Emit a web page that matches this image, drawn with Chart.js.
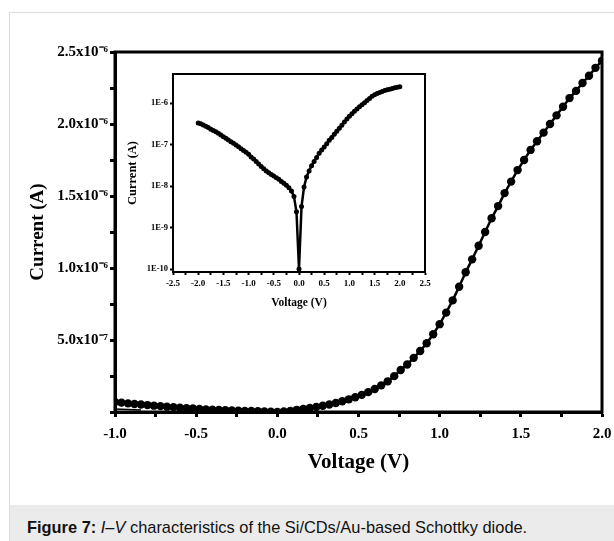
<!DOCTYPE html>
<html><head><meta charset="utf-8">
<script src="https://cdn.jsdelivr.net/npm/chart.js@4.4.1/dist/chart.umd.min.js"></script>
<style>
html,body{margin:0;padding:0;background:#fff;width:614px;height:541px;overflow:hidden;position:relative}
#card{position:absolute;left:9px;top:12px;width:700px;height:600px;border-left:1px solid #dcdcdc;border-top:1px solid #dcdcdc;box-sizing:border-box}
#cap{position:absolute;left:10px;top:505px;width:700px;height:60px;background:#ebebeb}
#capText{position:absolute;left:27px;top:518px;font:16.4px "Liberation Sans",Arial,sans-serif;line-height:19px;color:#111;white-space:nowrap}
#main{position:absolute;left:0;top:0}
#inset{position:absolute;left:100px;top:60px}
</style></head><body>
<div id="card"></div><div id="cap"></div>
<div id="capText"><b>Figure 7:</b> <i>I</i>–<i>V</i> characteristics of the Si/CDs/Au-based Schottky diode.</div>
<canvas id="main" width="614" height="500"></canvas>
<canvas id="inset" width="340" height="260"></canvas>
<script>
// ---- main I–V curve (linear) ----
const mainVoltage = [-1.00,-0.96,-0.92,-0.88,-0.84,-0.80,-0.76,-0.72,-0.68,-0.64,-0.60,-0.56,-0.52,-0.48,-0.44,-0.40,-0.36,-0.32,-0.28,-0.24,-0.20,-0.16,-0.12,-0.08,-0.04,
  0.00,0.04,0.08,0.12,0.16,0.20,0.24,0.28,0.32,0.36,0.40,0.44,0.48,0.52,0.56,0.60,0.64,0.68,0.72,0.76,0.80,0.84,0.88,0.92,0.96,
  1.00,1.04,1.08,1.12,1.16,1.20,1.24,1.28,1.32,1.36,1.40,1.44,1.48,1.52,1.56,1.60,1.64,1.68,1.72,1.76,1.80,1.84,1.88,1.92,1.96,2.00];
const mainCurrent = [6.9e-8,6.5e-8,6.0e-8,5.6e-8,5.2e-8,4.8e-8,4.4e-8,4.1e-8,3.7e-8,3.4e-8,3.0e-8,2.7e-8,2.4e-8,2.1e-8,1.8e-8,1.6e-8,1.4e-8,1.3e-8,1.1e-8,9.5e-9,8.0e-9,6.8e-9,5.6e-9,4.2e-9,2.5e-9,
  1.0e-10,3.0e-9,8.0e-9,1.5e-8,2.1e-8,2.8e-8,3.5e-8,4.3e-8,5.2e-8,6.3e-8,7.5e-8,8.8e-8,1.02e-7,1.19e-7,1.38e-7,1.60e-7,1.85e-7,2.13e-7,2.49e-7,2.92e-7,3.30e-7,3.76e-7,4.24e-7,4.77e-7,5.40e-7,
  6.10e-7,6.90e-7,7.75e-7,8.70e-7,9.70e-7,1.06e-6,1.155e-6,1.25e-6,1.345e-6,1.43e-6,1.52e-6,1.60e-6,1.68e-6,1.75e-6,1.82e-6,1.88e-6,1.94e-6,2.00e-6,2.06e-6,2.12e-6,2.18e-6,2.23e-6,2.285e-6,2.335e-6,2.39e-6,2.44e-6];
const tailVoltage = [-1.00,-0.84];
const tailCurrent = [2.0e-8,1.4e-8];
const mainXTicks = [-1,-0.75,-0.5,-0.25,0,0.25,0.5,0.75,1,1.25,1.5,1.75,2];
const mainXTickLabels = ['-1.0','','-0.5','','0.0','','0.5','','1.0','','1.5','','2.0'];
const mainYTicks = [0,2.5e-7,5e-7,7.5e-7,1e-6,1.25e-6,1.5e-6,1.75e-6,2e-6,2.25e-6,2.5e-6];
const mainYTickLabels = ['','','5.0x10\u207B\u2077','','1.0x10\u207B\u2076','','1.5x10\u207B\u2076','','2.0x10\u207B\u2076','','2.5x10\u207B\u2076'];

// ---- inset (log) ----
const insetVoltage = [-2.00,-1.95,-1.90,-1.85,-1.80,-1.75,-1.70,-1.65,-1.60,-1.55,-1.50,-1.45,-1.40,-1.35,-1.30,-1.25,-1.20,-1.15,-1.10,-1.05,
  -1.00,-0.95,-0.90,-0.85,-0.80,-0.75,-0.70,-0.65,-0.60,-0.55,-0.50,-0.45,-0.40,-0.35,-0.30,-0.25,-0.20,-0.15,-0.10,-0.05,
  0.00,0.05,0.10,0.15,0.20,0.25,0.30,0.35,0.40,0.45,0.50,0.55,0.60,0.65,0.70,0.75,0.80,0.85,0.90,0.95,
  1.00,1.05,1.10,1.15,1.20,1.25,1.30,1.35,1.40,1.45,1.50,1.55,1.60,1.65,1.70,1.75,1.80,1.85,1.90,1.95,2.00];
const insetCurrent = [3.3e-7,3.16e-7,2.95e-7,2.75e-7,2.57e-7,2.34e-7,2.19e-7,2.04e-7,1.86e-7,1.70e-7,1.55e-7,1.41e-7,1.29e-7,1.17e-7,1.07e-7,9.8e-8,8.9e-8,7.9e-8,7.2e-8,6.5e-8,
  5.8e-8,5.0e-8,4.5e-8,3.9e-8,3.4e-8,2.95e-8,2.6e-8,2.3e-8,2.1e-8,1.9e-8,1.74e-8,1.58e-8,1.45e-8,1.29e-8,1.17e-8,1.05e-8,9.1e-9,7.6e-9,5.6e-9,2.4e-9,
  1.0e-10,3.2e-9,9.5e-9,1.66e-8,2.3e-8,3.1e-8,3.9e-8,4.9e-8,6.2e-8,7.4e-8,8.7e-8,1.05e-7,1.26e-7,1.48e-7,1.78e-7,2.1e-7,2.45e-7,2.9e-7,3.5e-7,4.1e-7,
  4.8e-7,5.5e-7,6.3e-7,7.2e-7,8.1e-7,9.1e-7,1.02e-6,1.15e-6,1.29e-6,1.45e-6,1.58e-6,1.70e-6,1.80e-6,1.90e-6,2.0e-6,2.09e-6,2.16e-6,2.24e-6,2.32e-6,2.40e-6,2.45e-6];
const insetXTicks = [-2.5,-2.25,-2,-1.75,-1.5,-1.25,-1,-0.75,-0.5,-0.25,0,0.25,0.5,0.75,1,1.25,1.5,1.75,2,2.25,2.5];
const insetXTickLabels = ['-2.5','','-2.0','','-1.5','','-1.0','','-0.5','','0.0','','0.5','','1.0','','1.5','','2.0','','2.5'];
const insetYTicks = [1e-10,1e-9,1e-8,1e-7,1e-6];
const insetYTickLabels = ['1E-10','1E-9','1E-8','1E-7','1E-6'];

const SERIF = '"Liberation Serif","Times New Roman",serif';
const boxPlugin = {
  id: 'box',
  afterDraw(chart, args, opts) {
    const {ctx, chartArea: a} = chart;
    ctx.save();
    ctx.lineWidth = opts.width;
    ctx.strokeStyle = '#000';
    ctx.strokeRect(a.left, a.top, a.right - a.left, a.bottom - a.top);
    ctx.restore();
  }
};
function pts(xs, ys) { return xs.map((v, i) => ({x: v, y: ys[i]})); }

new Chart(document.getElementById('main'), {
  type: 'scatter',
  data: { datasets: [
    { data: pts(mainVoltage, mainCurrent), showLine: true, borderColor: '#000', backgroundColor: '#000',
      borderWidth: 2.5, pointRadius: 4.2, pointBorderWidth: 0, tension: 0 },
    { data: pts(tailVoltage, tailCurrent), showLine: true, borderColor: '#000', borderWidth: 1.5, pointRadius: 0 }
  ]},
  options: {
    responsive: false, animation: false, devicePixelRatio: 1,
    layout: { padding: { left: 0, top: 52, right: 12, bottom: 0 } },
    plugins: { legend: { display: false }, tooltip: { enabled: false }, box: { width: 3 } },
    scales: {
      x: {
        type: 'linear', min: -1, max: 2,
        afterBuildTicks: s => { s.ticks = mainXTicks.map(v => ({value: v})); },
        afterFit: s => { s.height = 88; s.paddingLeft = 0; s.paddingRight = 0; },
        ticks: { autoSkip: false, maxRotation: 0, padding: 8, color: '#000',
          font: { family: SERIF, size: 15, weight: 'bold' }, callback: (v, i) => mainXTickLabels[i] },
        grid: { drawOnChartArea: false, drawTicks: true, tickLength: 5, tickWidth: 3, tickColor: '#000' },
        border: { display: true, width: 3, color: '#000' },
        title: { display: true, text: 'Voltage (V)', color: '#000',
          font: { family: SERIF, size: 21, weight: 'bold' }, padding: { top: 0, bottom: 25 } }
      },
      y: {
        type: 'linear', min: 0, max: 2.5e-6,
        afterBuildTicks: s => { s.ticks = mainYTicks.map(v => ({value: v})); },
        afterFit: s => { s.width = 115; s.paddingTop = 0; s.paddingBottom = 0; },
        ticks: { autoSkip: false, padding: 2, color: '#000',
          font: { family: SERIF, size: 15, weight: 'bold' }, callback: (v, i) => mainYTickLabels[i] },
        grid: { drawOnChartArea: false, drawTicks: true, tickLength: 5, tickWidth: 3, tickColor: '#000' },
        border: { display: true, width: 3, color: '#000' },
        title: { display: true, text: 'Current (A)', color: '#000',
          font: { family: SERIF, size: 19, weight: 'bold' }, padding: { top: 27, bottom: 0 } }
      }
    }
  },
  plugins: [boxPlugin]
});

new Chart(document.getElementById('inset'), {
  type: 'scatter',
  data: { datasets: [
    { data: pts(insetVoltage, insetCurrent), showLine: true, borderColor: '#000', backgroundColor: '#000',
      borderWidth: 2.5, pointRadius: 2.5, pointBorderWidth: 0, tension: 0 }
  ]},
  options: {
    responsive: false, animation: false, devicePixelRatio: 1,
    layout: { padding: { left: 0, top: 14, right: 15, bottom: 0 } },
    plugins: { legend: { display: false }, tooltip: { enabled: false }, box: { width: 2 } },
    scales: {
      x: {
        type: 'linear', min: -2.5, max: 2.5,
        afterBuildTicks: s => { s.ticks = insetXTicks.map(v => ({value: v})); },
        afterFit: s => { s.height = 48; s.paddingLeft = 0; s.paddingRight = 0; },
        ticks: { autoSkip: false, maxRotation: 0, padding: 3, color: '#000',
          font: { family: SERIF, size: 9, weight: 'bold' }, callback: (v, i) => insetXTickLabels[i] },
        grid: { drawOnChartArea: false, drawTicks: true, tickLength: 3, tickWidth: 2, tickColor: '#000' },
        border: { display: true, width: 2, color: '#000' },
        title: { display: true, text: 'Voltage (V)', color: '#000',
          font: { family: SERIF, size: 11.5, weight: 'bold' }, padding: { top: 0, bottom: 10 } }
      },
      y: {
        type: 'logarithmic', min: 8.5e-11, max: 5e-6,
        afterBuildTicks: s => { s.ticks = insetYTicks.map(v => ({value: v})); },
        afterFit: s => { s.width = 73; s.paddingTop = 0; s.paddingBottom = 0; },
        ticks: { autoSkip: false, padding: 2, color: '#000',
          font: { family: SERIF, size: 8.5, weight: 'bold' }, callback: (v, i) => insetYTickLabels[i] },
        grid: { drawOnChartArea: false, drawTicks: true, tickLength: 3, tickWidth: 2, tickColor: '#000' },
        border: { display: true, width: 2, color: '#000' },
        title: { display: true, text: 'Current (A)', color: '#000',
          font: { family: SERIF, size: 12.5, weight: 'bold' }, padding: { top: 25, bottom: 0 } }
      }
    }
  },
  plugins: [boxPlugin]
});
</script>
</body></html>
